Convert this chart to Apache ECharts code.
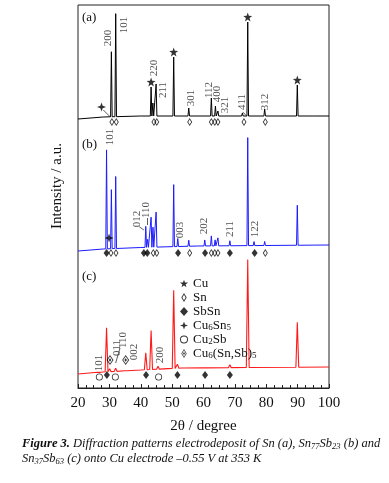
<!DOCTYPE html>
<html>
<head>
<meta charset="utf-8">
<script src="https://cdn.jsdelivr.net/npm/echarts@6/dist/echarts.min.js"></script>
<style>
  html, body { margin: 0; padding: 0; background: #fff; }
  #chart { width: 389px; height: 483px; }
</style>
</head>
<body>
<div id="chart"></div>
<script>
  // intensities in a.u. (1 unit ~ 1 px), each pattern relative to its own baseline
  const bgA = [[20, 0], [28, 2], [40, 3], [100, 3]]
  const peaksA = [[30.64, 65], [32.02, 103], [43.3, 29], [43.87, 13], [44.9, 32], [50.5, 59], [55.3, 8],
    [62.5, 18], [63.8, 10], [64.6, 5], [72.4, 3], [74.1, 94], [79.5, 7], [89.9, 31], [95.2, 2]]

  const bgB = [[20, 0], [28, 2], [40, 3.5], [58, 5], [100, 6]]
  const peaksB = [[29.1, 99], [30.64, 59], [32.02, 72], [41.6, 21], [42.2, 8], [43.3, 30], [43.9, 20], [44.9, 35],
    [50.5, 62], [51.8, 8], [55.3, 6], [60.4, 6], [62.5, 10], [63.7, 6], [64.6, 8], [68.4, 5],
    [74.1, 108], [76.1, 4], [79.5, 4], [89.9, 40], [95.2, 2]]

  const bgC = [[20, 0], [28, 2], [40, 4], [53, 6], [100, 7]]
  const peaksC = [[26.7, 2], [29.1, 44], [30.1, 3], [32.0, 3], [35.2, 2], [41.6, 17], [43.3, 39], [45.5, 3],
    [50.5, 78], [51.7, 4], [60.4, 2], [68.4, 3], [74.1, 108], [89.9, 45]]

  // phase markers (2theta)
  const cuA = [43.3, 50.5, 74.1, 89.9]
  const snA = [30.8, 32.2, 44.2, 45.1, 55.6, 62.5, 63.6, 64.6, 72.9, 79.7]
  const snB = [30.5, 32.1, 44.0, 45.1, 55.6, 62.5, 63.6, 64.6, 79.7]
  const sbsnB = [29.1, 41.0, 42.1, 51.9, 60.5, 68.4, 76.3]
  const sbsnC = [29.2, 41.7, 51.7, 60.5, 68.4]
  const cu2sbC = [26.8, 31.9, 45.7]
  const cu6snsbC = [30.2, 35.2]
  const cu6sn5 = [[27.5, 281], [29.9, 150]]

  // hkl labels [2theta, height, text]
  const hklA = [[29.56, 350, '200'], [34.66, 363, '101'], [44.2, 320, '220'], [47.1, 298, '211'], [55.9, 290, '301'],
    [61.75, 298, '112'], [64.2, 294, '400'], [66.85, 283, '321'], [72.2, 286, '411'], [79.6, 286, '312']]
  const hklB = [[30.2, 251, '101'], [38.7, 169, '012'], [41.7, 178, '110'], [52.5, 158, '003'],
    [60.2, 162, '202'], [68.4, 159, '211'], [76.4, 159, '122']]
  const hklC = [[26.7, 25, '101'], [32.4, 40, '011'], [34.3, 48, '110'], [37.8, 36, '002'], [46.1, 33, '200']]
  const leaders = [[[28.07, 278], [30.2, 271.3]], [[72.5, 276], [73.6, 272.5]], [[39.5, 161.3], [41.0, 158]],
    [[42.1, 170], [42.1, 163]], [[33.4, 40], [32.0, 25]]]

  const offA = 269, offB = 137, offC = 14

  function bgAt(bg, x) {
    for (let i = 1; i < bg.length; i++) {
      if (x <= bg[i][0]) {
        const t = (x - bg[i - 1][0]) / (bg[i][0] - bg[i - 1][0])
        return bg[i - 1][1] + t * (bg[i][1] - bg[i - 1][1])
      }
    }
    return bg[bg.length - 1][1]
  }
  function trace(bg, peaks, off, w) {
    const pts = bg.map(p => [p[0], off + p[1]])
    peaks.forEach(([x, h]) => {
      const b = off + bgAt(bg, x)
      pts.push([x - w, b], [x, b + h], [x + w, b])
    })
    return pts.sort((p, q) => p[0] - q[0])
  }
  function topOf(bg, peaks, off, x) {
    const p = peaks.find(q => q[0] === x)
    return off + bgAt(bg, x) + p[1]
  }

  const serif = 'Liberation Serif'
  const starPath = 'path://M0,-10L2.35,-3.24L9.51,-3.09L3.8,1.24L5.88,8.09L0,4L-5.88,8.09L-3.8,1.24L-9.51,-3.09L-2.35,-3.24Z'
  const crossPath = 'path://M0,-10L2.6,-2.6L10,0L2.6,2.6L0,10L-2.6,2.6L-10,0L-2.6,-2.6Z'
  const ringDiamond = 'path://M0,-10L6,0L0,10L-6,0ZM0,-6.2L-3.6,0L0,6.2L3.6,0Z'
  const ringCircle = 'path://M0,-10A10,10 0 1,1 0,10A10,10 0 1,1 0,-10ZM0,-7.6A7.6,7.6 0 1,0 0,7.6A7.6,7.6 0 1,0 0,-7.6Z'
  const dotDiamond = 'path://M0,0L6,10L0,20L-6,10ZM0,2.9L-4.2,10L0,17.1L4.2,10ZM0,6.4L2.2,10L0,13.6L-2.2,10Z'

  function mk(name, symbol, size, data) {
    return {
      name: name, type: 'scatter', symbol: symbol, symbolSize: size, data: data,
      itemStyle: { color: '#000' }, z: 5
    }
  }
  function hkl(list) {
    return {
      type: 'scatter', symbolSize: 0, silent: true,
      data: list.map(d => ({ value: [d[0], d[1]], name: d[2] })),
      label: { show: true, position: 'inside', rotate: 90, formatter: '{b}', fontFamily: serif, fontSize: 11, color: '#222' }
    }
  }

  const chart = echarts.init(document.getElementById('chart'))
  chart.setOption({
    animation: false,
    textStyle: { fontFamily: serif },
    grid: { left: 78, right: 60, top: 5, bottom: 95, show: true, borderColor: '#222', borderWidth: 1 },
    xAxis: {
      type: 'value', min: 20, max: 100, interval: 10,
      axisLine: { lineStyle: { color: '#222' } },
      axisTick: { inside: true, length: 4, lineStyle: { color: '#222' } },
      minorTick: { show: true, splitNumber: 4, length: 3, lineStyle: { color: '#222' } },
      splitLine: { show: false },
      axisLabel: { fontSize: 15, margin: 8, color: '#111', fontFamily: serif },
      name: '2θ / degree', nameLocation: 'middle', nameGap: 31,
      nameTextStyle: { fontSize: 15, color: '#111', fontFamily: serif }
    },
    yAxis: { type: 'value', min: 0, max: 383, show: false },
    legend: {
      orient: 'vertical', left: 180, top: 277, itemWidth: 8, itemHeight: 9, itemGap: 1, padding: 0,
      data: ['Cu', 'Sn', 'SbSn', 'Cu6Sn5', 'Cu2Sb', 'Cu6(Sn,Sb)5'],
      formatter: n => n.replace(/(\d+)/g, '{s|$1}'),
      textStyle: {
        fontFamily: serif, fontSize: 13, color: '#111', lineHeight: 13,
        rich: { s: { fontFamily: serif, fontSize: 9, lineHeight: 7, verticalAlign: 'bottom', color: '#111' } }
      }
    },
    series: [
      { type: 'line', data: trace(bgA, peaksA, offA, 0.25), showSymbol: false, lineStyle: { color: '#000', width: 1 }, silent: true },
      { type: 'line', data: trace(bgB, peaksB, offB, 0.25), showSymbol: false, lineStyle: { color: '#1a1aff', width: 1 }, silent: true },
      { type: 'line', data: trace(bgC, peaksC, offC, 0.45), showSymbol: false, lineStyle: { color: '#ff1a1a', width: 1.1 }, silent: true },
      mk('Cu', starPath, 9, cuA.map(x => [x, topOf(bgA, peaksA, offA, x) + 5])),
      mk('Sn', ringDiamond, [5, 8], snA.map(x => [x, offA - 3]).concat(snB.map(x => [x, offB - 2]))),
      mk('SbSn', 'diamond', [6, 8], sbsnB.map(x => [x, offB - 2]).concat(sbsnC.map(x => [x, offC - 1]))),
      mk('Cu6Sn5', crossPath, 9, cu6sn5),
      mk('Cu2Sb', ringCircle, 7, cu2sbC.map(x => [x, offC - 3])),
      mk('Cu6(Sn,Sb)5', dotDiamond, [7, 10], cu6snsbC.map(x => [x, offC + 14])),
      hkl(hklA), hkl(hklB), hkl(hklC),
      {
        type: 'lines', coordinateSystem: 'cartesian2d', silent: true,
        lineStyle: { color: '#333', width: 0.8, opacity: 1 },
        data: leaders.map(c => ({ coords: c }))
      }
    ],
    graphic: [
      { type: 'text', left: 82, top: 11, style: { text: '(a)', font: '13px "Liberation Serif"', fill: '#111' } },
      { type: 'text', left: 82, top: 138, style: { text: '(b)', font: '13px "Liberation Serif"', fill: '#111' } },
      { type: 'text', left: 82, top: 270, style: { text: '(c)', font: '13px "Liberation Serif"', fill: '#111' } },
      {
        type: 'text', x: 57, y: 186, rotation: Math.PI / 2,
        style: { text: 'Intensity / a.u.', font: '15px "Liberation Serif"', fill: '#111', align: 'center', verticalAlign: 'middle' }
      },
      {
        type: 'text', left: 22, top: 436,
        style: {
          text: '{b|Figure 3.} Diffraction patterns electrodeposit of Sn (a), Sn{s|77}Sb{s|23} (b) and\nSn{s|37}Sb{s|63} (c) onto Cu electrode –0.55 V at 353 K',
          font: 'italic 12.5px "Liberation Serif"', fill: '#111', lineHeight: 15,
          rich: {
            b: { font: 'italic bold 12.5px "Liberation Serif"', fill: '#111', lineHeight: 15 },
            s: { font: 'italic 8.5px "Liberation Serif"', fill: '#111', lineHeight: 6, verticalAlign: 'bottom' }
          }
        }
      }
    ]
  })
</script>
</body>
</html>
